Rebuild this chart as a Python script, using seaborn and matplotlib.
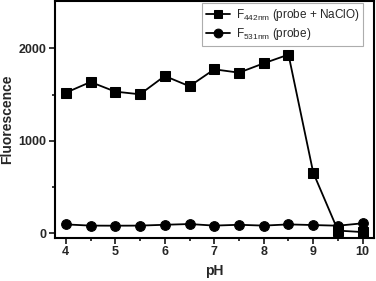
import numpy as np
import pandas as pd
import matplotlib
matplotlib.use("Agg")
import matplotlib.pyplot as plt
import seaborn as sns

# values
ph = [4, 4.5, 5, 5.5, 6, 6.5, 7, 7.5, 8, 8.5, 9, 9.5, 10]
f442_naclo = [1520, 1636, 1532, 1503, 1701, 1590, 1773, 1737, 1838, 1932, 656, 30, 14]
f531_probe = [97, 84, 83, 84, 93, 101, 84, 93, 84, 97, 90, 83, 109]

label_442 = r"F$_{\mathregular{442nm}}$ (probe + NaClO)"
label_531 = r"F$_{\mathregular{531nm}}$ (probe)"

df = pd.DataFrame({"pH": ph + ph,
                   "Fluorescence": f442_naclo + f531_probe,
                   "series": [label_442] * len(ph) + [label_531] * len(ph)})

sns.set_style("ticks")
plt.rcParams["font.family"] = ["Liberation Sans", "DejaVu Sans"]

fig = plt.figure(figsize=(3.76, 2.81), dpi=100)
ax = fig.add_axes([0.146, 0.153, 0.849, 0.843])

sns.lineplot(data=df, x="pH", y="Fluorescence", hue="series", style="series",
             markers={label_442: "s", label_531: "o"}, dashes=False,
             palette=["black", "black"], markersize=7, linewidth=1.3,
             markeredgecolor="black", ax=ax)

ax.set_xlim(3.78, 10.23)
ax.set_ylim(-50, 2510)
ax.set_xticks([4, 5, 6, 7, 8, 9, 10])
ax.set_xticks(np.arange(4.5, 10, 1), minor=True)
ax.set_yticks([0, 1000, 2000])
ax.set_yticks([500, 1500], minor=True)
ax.tick_params(which="both", direction="out", width=1.3, labelsize=9, pad=2)
ax.tick_params(which="major", length=4)
ax.tick_params(which="minor", length=2.5)
for lab in ax.get_xticklabels() + ax.get_yticklabels():
    lab.set_fontweight("bold")
for s in ax.spines.values():
    s.set_linewidth(1.5)
    s.set_color("black")

ax.set_xlabel("pH", fontsize=10, fontweight="bold")
ax.set_ylabel("Fluorescence", fontsize=10, fontweight="bold", labelpad=3)

leg = ax.legend(loc="upper right", bbox_to_anchor=(0.965, 0.99), fontsize=8.5,
                frameon=True, fancybox=False, edgecolor="#999999",
                handlelength=2.0, borderaxespad=0.0, labelspacing=0.25,
                borderpad=0.3, handletextpad=0.5, markerscale=0.9)
leg.get_frame().set_linewidth(0.8)

fig.savefig("out.png", dpi=100)
